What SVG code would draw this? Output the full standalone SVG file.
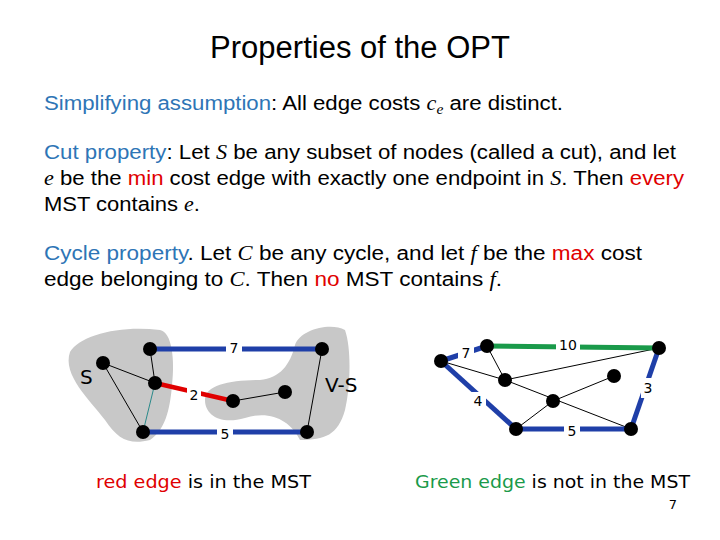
<svg xmlns="http://www.w3.org/2000/svg" width="720" height="540" viewBox="0 0 720 540">
<style>
.t{font-family:"Liberation Sans",Arial,sans-serif;font-size:20px;fill:#000}
.b{fill:#2e75b6}.r{fill:#e00000}
.m{font-family:"Liberation Serif",serif;font-style:italic}
.n{fill:#000}
.bl{stroke:#1f3fa8;stroke-width:5}
.k{stroke:#000;stroke-width:1}
.lb{font-family:"DejaVu Sans",sans-serif;font-size:14px;fill:#000;text-anchor:middle}
.c{font-family:"DejaVu Sans",sans-serif;font-size:18px;fill:#000}
</style>
<rect width="720" height="540" fill="#fff"/>
<text x="360" y="58" text-anchor="middle" font-family="Liberation Sans,Arial,sans-serif" font-size="31">Properties of the OPT</text>
<text class="t" x="44" y="110" textLength="519" lengthAdjust="spacingAndGlyphs"><tspan class="b">Simplifying assumption</tspan>: All edge costs <tspan class="m">c<tspan font-size="14" dy="4">e</tspan></tspan><tspan dy="-4"> are distinct.</tspan></text>
<text class="t" x="44" y="159" textLength="632" lengthAdjust="spacingAndGlyphs"><tspan class="b">Cut property</tspan>:  Let <tspan class="m">S</tspan> be any subset of nodes (called a cut), and let</text>
<text class="t" x="44" y="185" textLength="640" lengthAdjust="spacingAndGlyphs"><tspan class="m">e</tspan> be the <tspan class="r">min</tspan> cost edge with exactly one endpoint in <tspan class="m">S</tspan>. Then <tspan class="r">every</tspan></text>
<text class="t" x="44" y="211" textLength="156" lengthAdjust="spacingAndGlyphs">MST contains <tspan class="m">e</tspan>.</text>
<text class="t" x="44" y="260" textLength="598" lengthAdjust="spacingAndGlyphs"><tspan class="b">Cycle property</tspan>.  Let <tspan class="m">C</tspan> be any cycle, and let <tspan class="m">f</tspan> be the <tspan class="r">max</tspan> cost</text>
<text class="t" x="44" y="286" textLength="458" lengthAdjust="spacingAndGlyphs">edge belonging to <tspan class="m">C</tspan>.  Then <tspan class="r">no</tspan> MST contains <tspan class="m">f</tspan>.</text>

<g id="blobs" fill="#c8c8c8">
<path d="M70,352 C80,335 120,325 160,330 C172,332 175,360 172,385 C170,410 165,430 150,440 C130,445 118,440 105,420 C90,400 62,375 70,352 Z"/>
<path d="M205,400 C205,385 230,380 260,380 C280,378 290,365 295,345 C300,330 330,322 345,330 C352,350 350,390 345,410 C338,435 325,440 300,440 C290,420 270,410 245,418 C220,425 205,415 205,400 Z"/>
</g>
<g id="connectors">
<line class="k" x1="103" y1="363" x2="155" y2="383"/>
<line class="k" x1="103" y1="363" x2="143" y2="432"/>
<line class="k" x1="150" y1="349" x2="155" y2="383"/>
<line x1="155" y1="383" x2="143" y2="432" stroke="#2a8a8a" stroke-width="1"/>
<line class="k" x1="233" y1="401" x2="285" y2="392"/>
<line class="k" x1="322" y1="349" x2="307" y2="432"/>
<line class="bl" x1="150" y1="349" x2="322" y2="349"/>
<line class="bl" x1="143" y1="432" x2="307" y2="432"/>
<line x1="155" y1="383" x2="233" y2="401" stroke="#e00000" stroke-width="4.5"/>
<line class="k" x1="441" y1="361" x2="505" y2="380"/>
<line class="k" x1="487" y1="346" x2="505" y2="380"/>
<line class="k" x1="505" y1="380" x2="659" y2="348"/>
<line class="k" x1="505" y1="380" x2="631" y2="429"/>
<line class="k" x1="553" y1="401" x2="614" y2="376"/>
<line class="k" x1="553" y1="401" x2="516" y2="429"/>
<line class="bl" x1="441" y1="361" x2="487" y2="346"/>
<line class="bl" x1="441" y1="361" x2="516" y2="429"/>
<line class="bl" x1="516" y1="429" x2="631" y2="429"/>
<line class="bl" x1="659" y1="348" x2="631" y2="429"/>
<line x1="487" y1="346" x2="659" y2="348" stroke="#1a9a4a" stroke-width="5"/>
</g>
<g id="labels">
<rect x="226" y="338" width="16" height="18" fill="#fff"/><text class="lb" x="234" y="353">7</text>
<rect x="186" y="386" width="16" height="18" fill="#c8c8c8" opacity="0"/><rect x="187" y="385" width="14" height="18" fill="#fff"/><text class="lb" x="194" y="400">2</text>
<rect x="217" y="424" width="16" height="18" fill="#fff"/><text class="lb" x="225" y="439">5</text>
<text x="80" y="384" font-family="DejaVu Sans,sans-serif" font-size="20">S</text>
<text x="325" y="392" font-family="DejaVu Sans,sans-serif" font-size="20">V-S</text>
<rect x="458" y="343" width="16" height="20" fill="#fff"/><text class="lb" x="466" y="358">7</text>
<rect x="556" y="336" width="24" height="18" fill="#fff"/><text class="lb" x="568" y="350">10</text>
<rect x="641" y="378" width="14" height="20" fill="#fff"/><text class="lb" x="648" y="393">3</text>
<rect x="470" y="392" width="16" height="20" fill="#fff"/><text class="lb" x="478" y="406">4</text>
<rect x="564" y="422" width="16" height="18" fill="#fff"/><text class="lb" x="572" y="436">5</text>
</g>
<g id="nodes" fill="#000">
<circle cx="150" cy="349" r="7"/><circle cx="103" cy="363" r="7"/><circle cx="155" cy="383" r="7"/><circle cx="143" cy="432" r="7"/>
<circle cx="233" cy="401" r="7"/><circle cx="285" cy="392" r="7"/><circle cx="322" cy="349" r="7"/><circle cx="307" cy="432" r="7"/>
<circle cx="441" cy="361" r="7"/><circle cx="487" cy="346" r="7"/><circle cx="659" cy="348" r="7"/><circle cx="505" cy="380" r="7"/>
<circle cx="614" cy="376" r="7"/><circle cx="553" cy="401" r="7"/><circle cx="516" cy="429" r="7"/><circle cx="631" cy="429" r="7"/>
</g>
<text class="c" x="96" y="488" textLength="215" lengthAdjust="spacingAndGlyphs"><tspan fill="#e00000">red edge</tspan> is in the MST</text>
<text class="c" x="415" y="488" textLength="275" lengthAdjust="spacingAndGlyphs"><tspan fill="#1a9a4a">Green edge</tspan> is not in the MST</text>
<text x="673" y="509" font-family="DejaVu Sans,sans-serif" font-size="13" text-anchor="middle">7</text>
</svg>
